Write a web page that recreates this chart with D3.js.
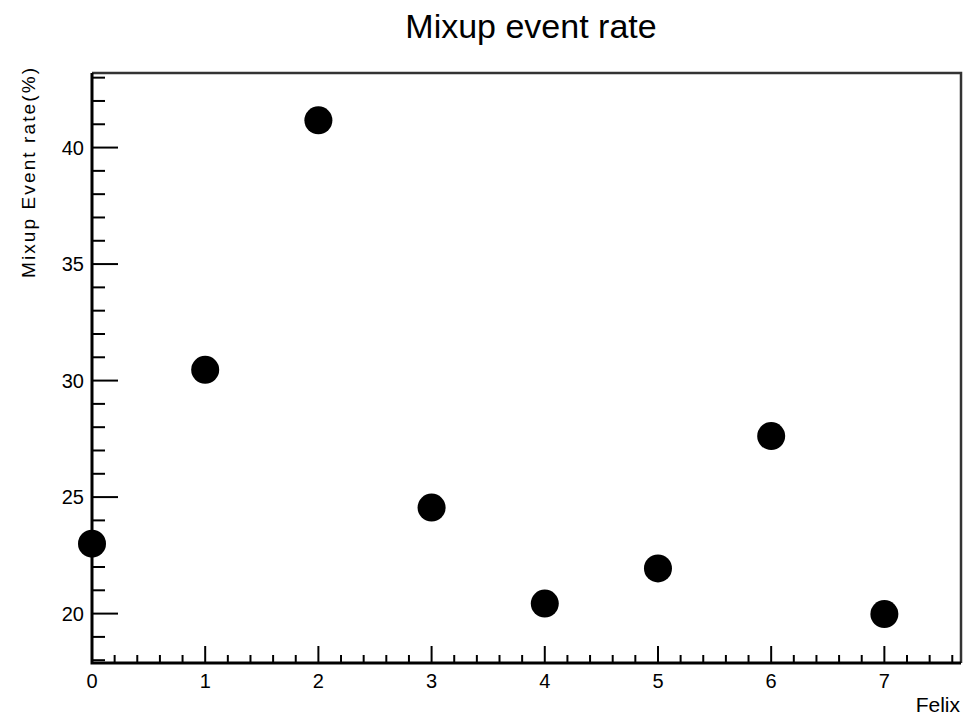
<!DOCTYPE html>
<html>

<head>
    <title>Mixup event rate</title>
    <script src="https://cdnjs.cloudflare.com/ajax/libs/d3/7.8.5/d3.min.js"></script>
    <style>
        html,
        body {
            margin: 0;
            padding: 0;
            background-color: #FFFFFF;
            font-family: 'Liberation Sans', Arial, sans-serif;
        }

        #chart {
            width: 964px;
            height: 716px;
        }
    </style>
</head>

<body>
    <div id="chart"></div>

    <script>

        // values
        const felix = [0, 1, 2, 3, 4, 5, 6, 7];
        const mixupRate = [23.0, 30.46, 41.17, 24.55, 20.43, 21.94, 27.62, 19.98];
        const xTickLabels = ['0', '1', '2', '3', '4', '5', '6', '7'];
        const yTickLabels = ['20', '25', '30', '35', '40'];

        const width = 964;
        const height = 716;
        const frame = { left: 92, right: 961, top: 73, bottom: 663 };

        const svg = d3.select("#chart")
            .append("svg")
            .attr("width", width)
            .attr("height", height);

        const xScale = d3.scaleLinear()
            .domain([0, 7.677])
            .range([frame.left, frame.right]);

        const yScale = d3.scaleLinear()
            .domain([17.88, 43.2])
            .range([frame.bottom, frame.top]);

        // frame top and right
        svg.append("path")
            .attr("d", `M${frame.left},${frame.top}H${frame.right}V${frame.bottom}`)
            .attr("fill", "none")
            .attr("stroke", "#333")
            .attr("stroke-width", 2.5);

        // x ticks, pointing up into the frame
        const xMinor = d3.range(0, 7.68, 0.2);
        svg.append("g")
            .selectAll("line")
            .data(xMinor)
            .enter()
            .append("line")
            .attr("x1", (d) => xScale(d))
            .attr("x2", (d) => xScale(d))
            .attr("y1", frame.bottom)
            .attr("y2", (d) => frame.bottom - (Math.abs(d - Math.round(d)) < 1e-6 ? 17 : 8))
            .attr("stroke", "black")
            .attr("stroke-width", 2);

        // y ticks, pointing right into the frame
        const yMinor = d3.range(18, 43.5, 1);
        svg.append("g")
            .selectAll("line")
            .data(yMinor)
            .enter()
            .append("line")
            .attr("x1", frame.left)
            .attr("x2", (d) => frame.left + (d % 5 === 0 ? 26 : 13))
            .attr("y1", (d) => yScale(d))
            .attr("y2", (d) => yScale(d))
            .attr("stroke", "black")
            .attr("stroke-width", 2);

        // axis lines
        svg.append("path")
            .attr("d", `M${frame.left},${frame.top}V${frame.bottom}H${frame.right}`)
            .attr("fill", "none")
            .attr("stroke", "black")
            .attr("stroke-width", 3);

        svg.append("g")
            .selectAll("text")
            .data(xTickLabels)
            .enter()
            .append("text")
            .attr("x", (d) => xScale(+d))
            .attr("y", 688)
            .attr("text-anchor", "middle")
            .style("font-size", "20px")
            .text((d) => d);

        svg.append("g")
            .selectAll("text")
            .data(yTickLabels)
            .enter()
            .append("text")
            .attr("x", 84)
            .attr("y", (d) => yScale(+d))
            .attr("dy", "0.36em")
            .attr("text-anchor", "end")
            .style("font-size", "20px")
            .text((d) => d);

        svg.append("text")
            .attr("x", 531)
            .attr("y", 38)
            .attr("text-anchor", "middle")
            .style("font-size", "34px")
            .text("Mixup event rate");

        svg.append("text")
            .attr("x", 960)
            .attr("y", 712)
            .attr("text-anchor", "end")
            .style("font-size", "21px")
            .text("Felix");

        svg.append("text")
            .attr("transform", "translate(35,68) rotate(-90)")
            .attr("text-anchor", "end")
            .style("font-size", "19px")
            .attr("textLength", 210)
            .attr("lengthAdjust", "spacing")
            .text("Mixup Event rate(%)");

        svg.append("g")
            .selectAll("circle")
            .data(felix)
            .enter()
            .append("circle")
            .attr("cx", (d) => xScale(d))
            .attr("cy", (d, i) => yScale(mixupRate[i]))
            .attr("r", 14)
            .attr("fill", "black");

    </script>
</body>

</html>
